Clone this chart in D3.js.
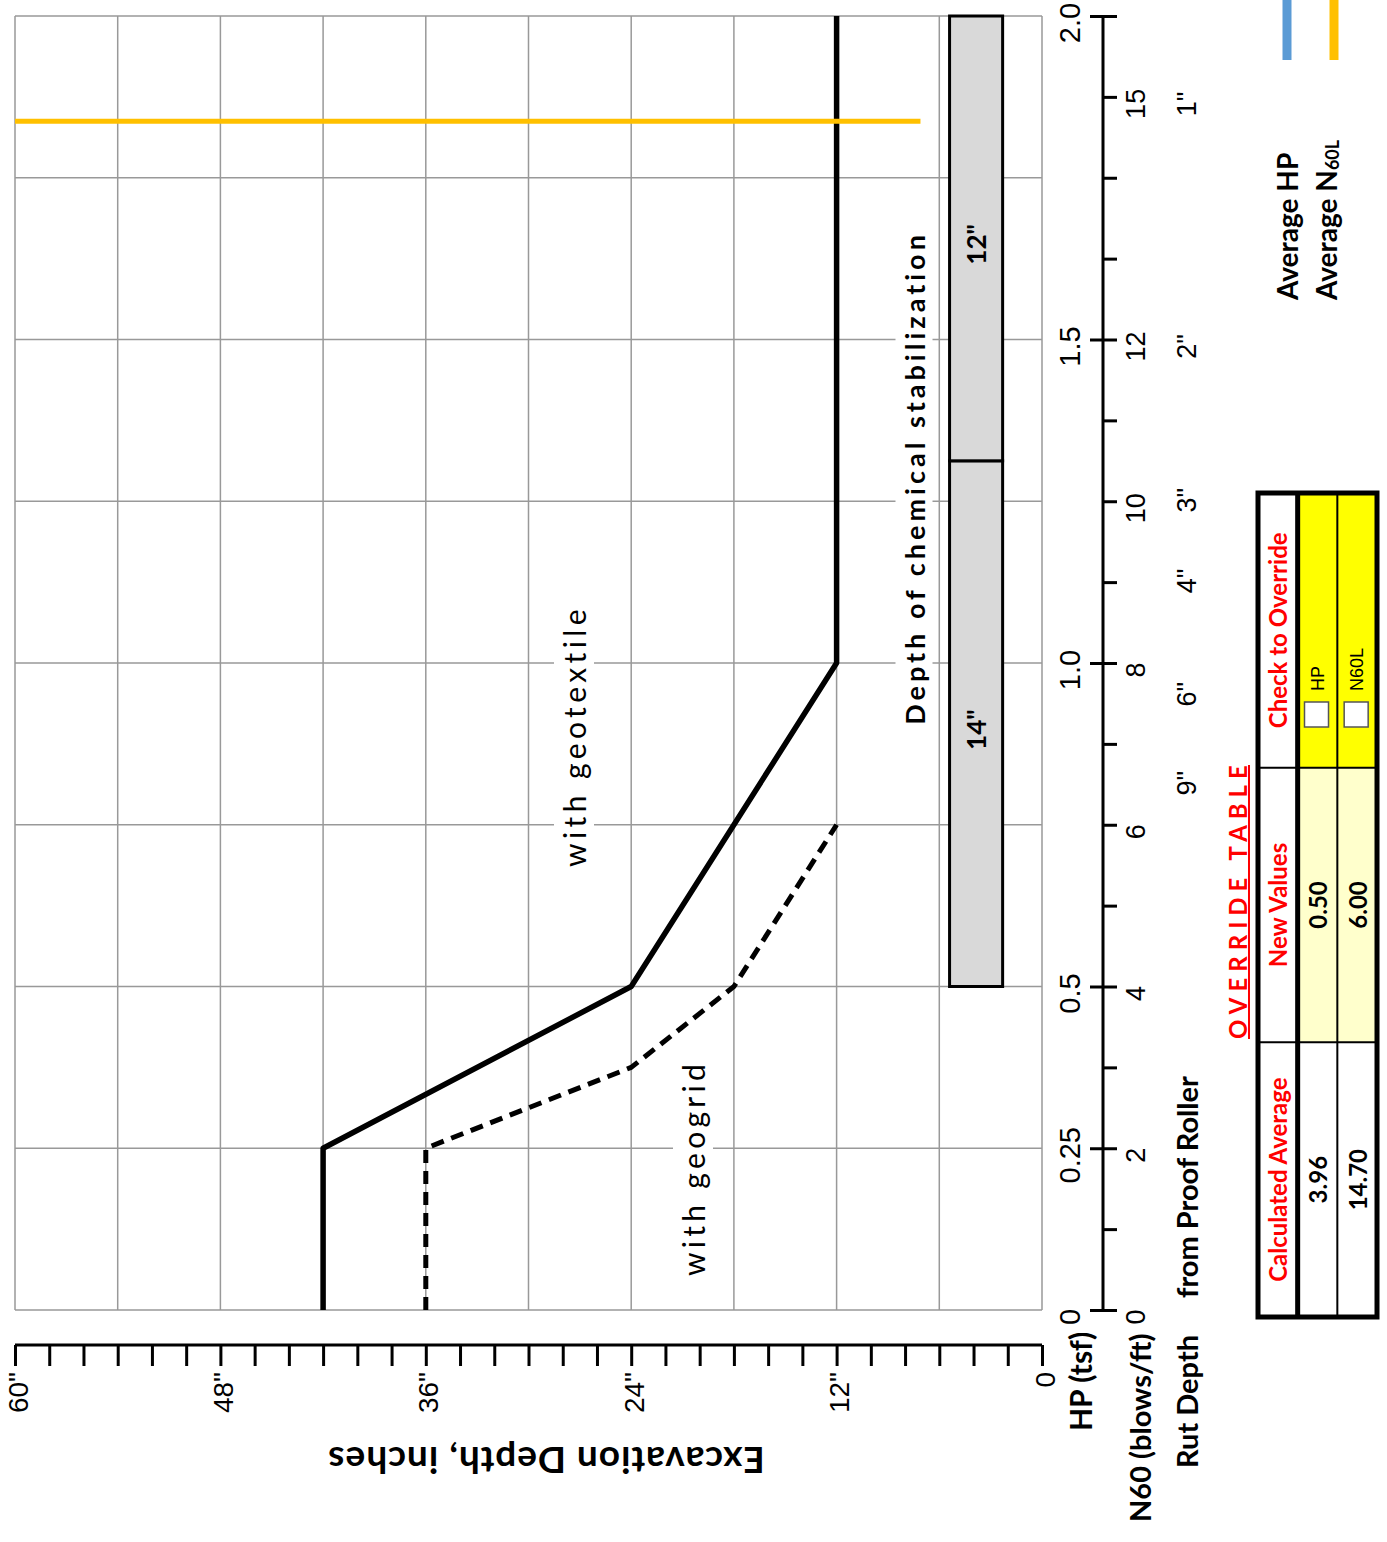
<!DOCTYPE html>
<html>
<head>
<meta charset="utf-8">
<script src="https://cdn.jsdelivr.net/npm/d3@7"></script>
<style>
body { margin: 0; background: #fff; }
text { font-family: Lato, "Open Sans", sans-serif; }
.num { font-family: "Liberation Sans", Arial, sans-serif; }
</style>
</head>
<body>
<div id="chart"></div>
<script>
/* global d3 */

var w = 1387,
    h = 1542;

// curves: hand penetrometer (tsf) vs excavation depth (in)
var geotextileHP = [0, 0.25, 0.5, 1.0, 2.0];
var geotextileDepth = [42, 42, 24, 12, 12];
var geogridHP = [0, 0.25, 0.375, 0.5, 0.75];
var geogridDepth = [36, 36, 24, 18, 12];

// axes
var depthLabels = [60, 48, 36, 24, 12, 0];
var depthGrid = [0, 6, 12, 18, 24, 30, 36, 42, 48, 54, 60];
var hpTicks = [0, 0.25, 0.5, 1.0, 1.5, 2.0];
var hpTickLabels = ["0", "0.25", "0.5", "1.0", "1.5", "2.0"];
var n60Ticks = [0, 2, 4, 6, 8, 10, 12, 15];
var rutN60 = [15, 12, 10.1, 9.1, 7.7, 6.6];
var rutLabels = ['1"', '2"', '3"', '4"', '6"', '9"'];

// chemical stabilization bar
var chemHP = [0.5, 1.3125, 2.0];
var chemLabels = ['14"', '12"'];
var chemDepth = [2.3, 5.4];

// averages / override table
var tableHead = ["Calculated Average", "New Values", "Check to Override"];
var tableRows = ["HP", "N60L"];
var calcAvg = [3.96, 14.70];
var newValues = [0.50, 6.00];
var avgLineDepth = [60, 7.1];

var svg = d3.select("#chart").append("svg")
    .attr("width", w)
    .attr("height", h);

var x = d3.scaleLinear().domain([0, 60]).range([1042, 15]);
var y = d3.scaleLinear().domain([0, 2]).range([1310, 16]);
var n60 = d3.scaleLinear().domain([0, 16]).range([1310, 16]);

var hpGrid = d3.range(0, 2.01, 0.25);

// rotated text helper (reads bottom to top)
function vtext(sel, px, py, str) {
    return sel.append("text")
        .attr("transform", "translate(" + px + "," + py + ") rotate(-90)")
        .attr("dominant-baseline", "central")
        .text(str);
}

function boxedLabel(px, py, str, size, spacing, weight) {
    var g = svg.append("g").attr("transform", "translate(" + px + "," + py + ") rotate(-90)");
    var r = g.append("rect").attr("fill", "#fff");
    var t = g.append("text")
        .attr("text-anchor", "middle")
        .attr("dominant-baseline", "central")
        .style("font-size", size + "px")
        .style("font-weight", weight)
        .style("letter-spacing", spacing + "px")
        .text(str);
    var b = t.node().getBBox();
    r.attr("x", b.x - 6).attr("y", b.y - 2).attr("width", b.width + 12).attr("height", b.height + 4);
}

///////////////// grid ////////////////
svg.append("g").selectAll("line")
    .data(depthGrid)
    .enter().append("line")
    .attr("x1", d => x(d)).attr("x2", d => x(d))
    .attr("y1", y(0)).attr("y2", y(2))
    .attr("stroke", "#999").attr("stroke-width", 1.5);

svg.append("g").selectAll("line")
    .data(hpGrid)
    .enter().append("line")
    .attr("x1", x(60)).attr("x2", x(0))
    .attr("y1", d => y(d)).attr("y2", d => y(d))
    .attr("stroke", "#999").attr("stroke-width", 1.5);

///////////////// chemical stabilization bar ////////////////
var chemSegs = chemLabels.map((l, i) => ({ from: chemHP[i], to: chemHP[i + 1], label: l }));
svg.append("g").selectAll("rect")
    .data(chemSegs)
    .enter().append("rect")
    .attr("x", x(chemDepth[1]))
    .attr("width", x(chemDepth[0]) - x(chemDepth[1]))
    .attr("y", d => y(d.to))
    .attr("height", d => y(d.from) - y(d.to))
    .attr("fill", "#d9d9d9")
    .attr("stroke", "#000")
    .attr("stroke-width", 3);

chemSegs.forEach(function(d) {
    vtext(svg, (x(chemDepth[0]) + x(chemDepth[1])) / 2, (y(d.from) + y(d.to)) / 2 + 6, d.label)
        .attr("text-anchor", "middle")
        .style("font-size", "26px")
        .style("font-weight", 700);
});

boxedLabel(914, 478, "Depth of chemical stabilization", 27, 4, 700);
boxedLabel(574, 736, "with geotextile", 30, 4.4, 400);
boxedLabel(693, 1168, "with geogrid", 30, 4.3, 400);

///////////////// curves ////////////////
var line = d3.line().x(d => x(d.depth)).y(d => y(d.hp));

var geotextile = geotextileHP.map((v, i) => ({ hp: v, depth: geotextileDepth[i] }));
var geogrid = geogridHP.map((v, i) => ({ hp: v, depth: geogridDepth[i] }));

svg.append("path")
    .datum(geotextile)
    .attr("d", line)
    .attr("fill", "none")
    .attr("stroke", "#000")
    .attr("stroke-width", 5.5)
    .attr("stroke-linejoin", "round");

svg.append("path")
    .datum(geogrid)
    .attr("d", line)
    .attr("fill", "none")
    .attr("stroke", "#000")
    .attr("stroke-width", 5)
    .attr("stroke-dasharray", "13,8")
    .attr("stroke-linejoin", "round");

// average N60 line
svg.append("line")
    .attr("x1", x(avgLineDepth[0])).attr("x2", x(avgLineDepth[1]))
    .attr("y1", n60(calcAvg[1])).attr("y2", n60(calcAvg[1]))
    .attr("stroke", "#ffc000").attr("stroke-width", 5);
// average HP line (drawn only when on the chart)
if (calcAvg[0] <= 2) {
    svg.append("line")
        .attr("x1", x(avgLineDepth[0])).attr("x2", x(avgLineDepth[1]))
        .attr("y1", y(calcAvg[0])).attr("y2", y(calcAvg[0]))
        .attr("stroke", "#5b9bd5").attr("stroke-width", 5);
}

///////////////// depth axis (bottom) ////////////////
var axisY = 1345;
svg.append("g")
    .attr("transform", "translate(0," + axisY + ")")
    .call(d3.axisBottom(x).tickValues(d3.range(0, 61, 2)).tickSize(21).tickFormat(""))
    .call(g => g.select(".domain").attr("stroke-width", 3).attr("d", "M" + x(60) + ",0H" + x(0)))
    .call(g => g.selectAll(".tick line").attr("stroke-width", 3));

depthLabels.forEach(function(d) {
    vtext(svg, x(d) + 3, 1372, d === 0 ? "0" : d + '"')
        .attr("class", "num")
        .attr("text-anchor", "end")
        .style("font-size", "28px");
});

vtext(svg, 0, 0, "Excavation Depth, inches")
    .attr("transform", "translate(546,1461) rotate(180)")
    .attr("text-anchor", "middle")
    .style("font-size", "37px")
    .style("letter-spacing", "1px")
    .style("font-weight", 700);

///////////////// HP / N60 axis (right) ////////////////
var axisX = 1103;
svg.append("g")
    .attr("transform", "translate(" + axisX + ",0)")
    .call(d3.axisRight(n60).tickValues(d3.range(0, 17, 1)).tickSize(14).tickFormat(""))
    .call(g => g.select(".domain").attr("stroke-width", 3).attr("d", "M0," + y(0) + "V" + y(2)))
    .call(g => g.selectAll(".tick line").attr("stroke-width", 3));
svg.append("g")
    .attr("transform", "translate(" + axisX + ",0)")
    .call(d3.axisLeft(y).tickValues(hpTicks).tickSize(13).tickFormat(""))
    .call(g => g.select(".domain").remove())
    .call(g => g.selectAll(".tick line").attr("stroke-width", 3));

hpTicks.forEach(function(d, i) {
    vtext(svg, 1070, y(d) + 7, hpTickLabels[i])
        .attr("class", "num")
        .attr("text-anchor", "middle")
        .style("font-size", "29px");
});
n60Ticks.forEach(function(d) {
    vtext(svg, 1136, n60(d) + 7, d)
        .attr("class", "num")
        .attr("text-anchor", "middle")
        .style("font-size", "27px");
});
rutN60.forEach(function(d, i) {
    vtext(svg, 1187, n60(d) + 7, rutLabels[i])
        .attr("class", "num")
        .attr("text-anchor", "middle")
        .style("font-size", "27px");
});

vtext(svg, 1080, 1431, "HP (tsf)").style("font-size", "30px").style("font-weight", 700);
vtext(svg, 1139, 1522, "N60 (blows/ft)").style("font-size", "29px").style("font-weight", 700);
vtext(svg, 1186, 1468, "Rut Depth").style("font-size", "29px").style("font-weight", 700);
vtext(svg, 1186, 1298, "from Proof Roller").style("font-size", "29px").style("font-weight", 700);

///////////////// legend ////////////////
var legendColors = ["#5b9bd5", "#ffc000"];
var legendX = [1287, 1334];
legendColors.forEach(function(c, i) {
    svg.append("line")
        .attr("x1", legendX[i]).attr("x2", legendX[i])
        .attr("y1", 0).attr("y2", 60)
        .attr("stroke", c).attr("stroke-width", 9);
});
vtext(svg, 1287, 300, "Average HP").style("font-size", "28px").style("font-weight", 700);
var lt = vtext(svg, 1326, 300, "Average N").style("font-size", "28px").style("font-weight", 700);
lt.append("tspan").attr("dy", 6).style("font-size", "18px").text("60L");

///////////////// override table ////////////////
// sections run bottom to top on the page
var secY = d3.scaleBand().domain(tableHead.slice().reverse()).range([493, 1317]);
var colX = d3.scaleBand().domain(["head"].concat(tableRows)).range([1258, 1377]);
var cellFill = { "Calculated Average": "#fff", "New Values": "#ffffcc", "Check to Override": "#ffff00" };

var tbl = svg.append("g");
tableHead.forEach(function(s) {
    tbl.append("rect")
        .attr("x", colX("head")).attr("width", colX.bandwidth())
        .attr("y", secY(s)).attr("height", secY.bandwidth())
        .attr("fill", "#fff");
    tableRows.forEach(function(r) {
        tbl.append("rect")
            .attr("x", colX(r)).attr("width", colX.bandwidth())
            .attr("y", secY(s)).attr("height", secY.bandwidth())
            .attr("fill", cellFill[s]);
    });
    vtext(tbl, colX("head") + colX.bandwidth() / 2, secY(s) + secY.bandwidth() / 2, s)
        .attr("text-anchor", "middle")
        .style("font-size", "24px")
        .style("font-weight", 700)
        .attr("fill", "#ff0000");
});

tableRows.forEach(function(r, i) {
    var cx = colX(r) + colX.bandwidth() / 2;
    vtext(tbl, cx, secY("Calculated Average") + secY.bandwidth() / 2, calcAvg[i].toFixed(2))
        .attr("text-anchor", "middle").style("font-size", "24px").style("font-weight", 700);
    vtext(tbl, cx, secY("New Values") + secY.bandwidth() / 2, newValues[i].toFixed(2))
        .attr("text-anchor", "middle").style("font-size", "24px").style("font-weight", 700);
    tbl.append("rect")
        .attr("x", cx - 13).attr("y", 702)
        .attr("width", 24).attr("height", 25)
        .attr("fill", "#fff").attr("stroke", "#555").attr("stroke-width", 1.5);
    vtext(tbl, cx, 691, r).attr("class", "num").style("font-size", "18px");
});

// inner lines
tbl.append("line")
    .attr("x1", colX("HP")).attr("x2", colX("HP"))
    .attr("y1", 493).attr("y2", 1317)
    .attr("stroke", "#000").attr("stroke-width", 5);
tbl.append("line")
    .attr("x1", colX("N60L")).attr("x2", colX("N60L"))
    .attr("y1", 493).attr("y2", 1317)
    .attr("stroke", "#000").attr("stroke-width", 2);
[secY("New Values"), secY("Calculated Average")].forEach(function(v) {
    tbl.append("line")
        .attr("x1", 1258).attr("x2", 1377)
        .attr("y1", v).attr("y2", v)
        .attr("stroke", "#000").attr("stroke-width", 2);
});
tbl.append("rect")
    .attr("x", 1258).attr("y", 493)
    .attr("width", 1377 - 1258).attr("height", 1317 - 493)
    .attr("fill", "none").attr("stroke", "#000").attr("stroke-width", 5);

var ot = vtext(svg, 1237, 1039, "OVERRIDE TABLE")
    .attr("text-anchor", "start")
    .style("font-size", "24px")
    .style("font-weight", 700)
    .style("letter-spacing", "6px")
    .attr("fill", "#ff0000");
var otLen = ot.node().getComputedTextLength();
svg.append("line")
    .attr("x1", 1249).attr("x2", 1249)
    .attr("y1", 1039).attr("y2", 1039 - otLen + 6)
    .attr("stroke", "#ff0000").attr("stroke-width", 2);
</script>
</body>
</html>
